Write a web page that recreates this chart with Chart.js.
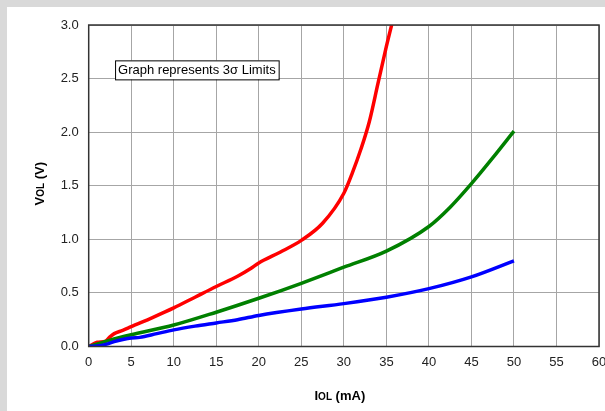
<!DOCTYPE html>
<html>
<head>
<meta charset="utf-8">
<script src="https://cdn.jsdelivr.net/npm/chart.js@4"></script>
<style>
  html, body { margin: 0; padding: 0; background: #d9d9d9; }
  #wrap { position: absolute; left: 7px; top: 7px; width: 598px; height: 404px; background: #fff; }
</style>
</head>
<body>
<div id="wrap"><canvas id="chart"></canvas></div>
<script>
// ── Data ──────────────────────────────────────────────────────────────────────
const xTicks = [0, 5, 10, 15, 20, 25, 30, 35, 40, 45, 50, 55, 60];
const yTicks = [0, 0.5, 1.0, 1.5, 2.0, 2.5, 3.0];

const redX = [0, 1, 2, 2.5, 3, 4, 5, 7.5, 10, 12.5, 15, 17.5, 19, 20, 22.5, 25, 27.5, 30, 31, 32, 33, 34, 35, 36];
const redY = [0, 0.04, 0.05, 0.09, 0.12, 0.15, 0.185, 0.27, 0.36, 0.46, 0.56, 0.655, 0.725, 0.78, 0.88, 0.99, 1.15, 1.43, 1.62, 1.84, 2.1, 2.45, 2.8, 3.12];

const greenX = [0, 2.5, 5, 10, 15, 20, 25, 30, 35, 40, 42.5, 45, 47.5, 50];
const greenY = [0, 0.06, 0.11, 0.2, 0.32, 0.45, 0.59, 0.74, 0.89, 1.12, 1.3, 1.52, 1.76, 2.01];

const blueX = [0, 1, 2, 3, 4, 5, 6, 8, 10, 12.5, 15, 17.5, 20, 25, 30, 35, 40, 45, 50];
const blueY = [0, 0.005, 0.02, 0.045, 0.065, 0.08, 0.085, 0.12, 0.155, 0.19, 0.22, 0.25, 0.29, 0.35, 0.4, 0.46, 0.54, 0.65, 0.8];

const noteText = 'Graph represents 3σ Limits';
const noteAt = { x: 3.1, y: 2.67 };

const FONT = "'Liberation Sans', Arial, sans-serif";
const toPts = (xs, ys) => xs.map((x, i) => ({ x, y: ys[i] }));

// ── Plugins ───────────────────────────────────────────────────────────────────
const frame = {
    id: 'frame',
    afterDatasetsDraw(chart) {
        const { ctx, chartArea: a, scales } = chart;
        ctx.save();
        ctx.strokeStyle = '#333';
        ctx.lineWidth = 1.5;
        ctx.strokeRect(a.left, a.top, a.right - a.left, a.bottom - a.top);

        // note box
        ctx.font = `13px ${FONT}`;
        const bx = scales.x.getPixelForValue(noteAt.x);
        const by = scales.y.getPixelForValue(noteAt.y);
        const w = ctx.measureText(noteText).width + 6;
        ctx.fillStyle = '#fff';
        ctx.fillRect(bx, by, w, 19);
        ctx.strokeStyle = '#000';
        ctx.lineWidth = 1;
        ctx.strokeRect(bx + 0.5, by + 0.5, w, 19);
        ctx.fillStyle = '#000';
        ctx.textBaseline = 'middle';
        ctx.fillText(noteText, bx + 3, by + 10.5);

        // axis titles, "OL" in small caps
        const big = `bold 13px ${FONT}`, small = `bold 10px ${FONT}`;
        const drawTitle = (parts, cx, cy, rot) => {
            ctx.save();
            ctx.translate(cx, cy);
            ctx.rotate(rot);
            let total = 0;
            parts.forEach(p => { ctx.font = p[1]; total += ctx.measureText(p[0]).width; });
            let x = -total / 2;
            ctx.textBaseline = 'alphabetic';
            ctx.fillStyle = '#000';
            parts.forEach(p => {
                ctx.font = p[1];
                ctx.fillText(p[0], x, 5);
                x += ctx.measureText(p[0]).width;
            });
            ctx.restore();
        };
        drawTitle([['I', big], ['OL', small], [' (mA)', big]], (a.left + a.right) / 2 - 4, 388, 0);
        drawTitle([['V', big], ['OL', small], [' (V)', big]], 32, (a.top + a.bottom) / 2 - 2, -Math.PI / 2);
        ctx.restore();
    }
};

// ── Chart ─────────────────────────────────────────────────────────────────────
const line = (data, color) => ({
    data, borderColor: color, backgroundColor: color,
    borderWidth: 3.5, pointRadius: 0, cubicInterpolationMode: 'monotone', fill: false
});

new Chart(document.getElementById('chart'), {
    type: 'line',
    data: {
        datasets: [
            line(toPts(blueX, blueY), '#0000ff'),
            line(toPts(greenX, greenY), '#008000'),
            line(toPts(redX, redY), '#ff0000')
        ]
    },
    options: {
        responsive: true, maintainAspectRatio: false, animation: false,
        layout: { padding: { top: 18, right: 6, left: 0, bottom: 0 } },
        plugins: { legend: { display: false }, tooltip: { enabled: false } },
        scales: {
            x: {
                type: 'linear', min: 0, max: 60,
                afterBuildTicks: s => { s.ticks = xTicks.map(v => ({ value: v })); },
                afterFit: s => { s.height = 64.5; s.paddingLeft = 0; s.paddingRight = 0; },
                grid: { color: '#a6a6a6', lineWidth: 1, drawTicks: false },
                border: { display: false },
                ticks: { color: '#222', font: { family: FONT, size: 13 }, padding: 8, maxRotation: 0 }
            },
            y: {
                type: 'linear', min: 0, max: 3,
                afterBuildTicks: s => { s.ticks = yTicks.map(v => ({ value: v })); },
                afterFit: s => { s.width = 81.7; },
                grid: { color: '#a6a6a6', lineWidth: 1, drawTicks: false },
                border: { display: false },
                ticks: { color: '#222', font: { family: FONT, size: 13 }, padding: 10,
                         callback: v => v.toFixed(1) }
            }
        }
    },
    plugins: [frame]
});
</script>
</body>
</html>
